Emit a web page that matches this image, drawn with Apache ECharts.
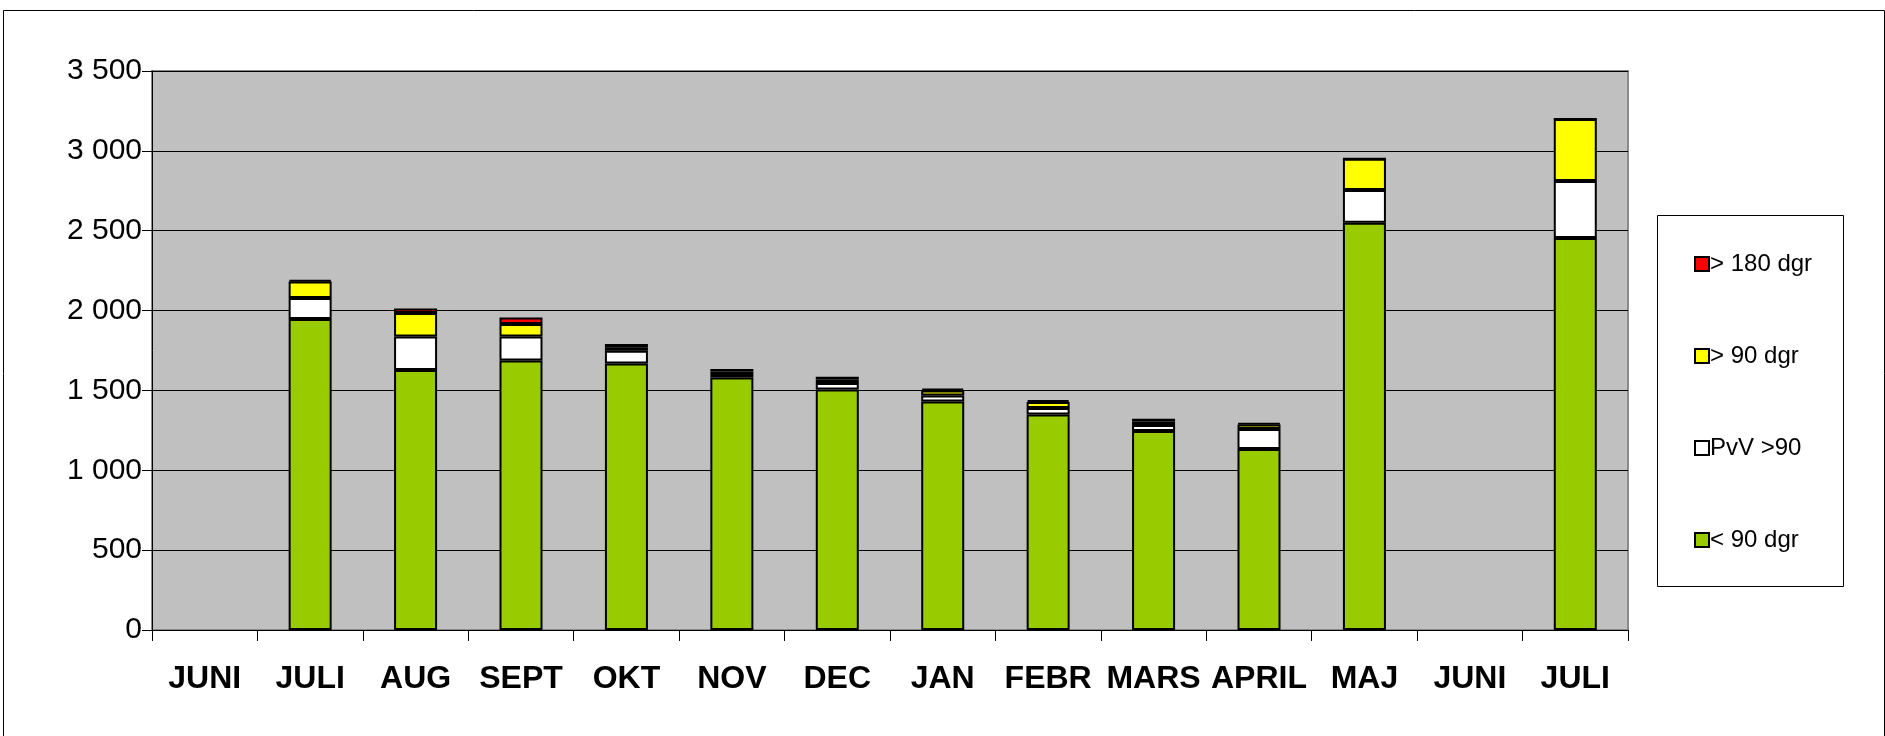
<!DOCTYPE html>
<html>
<head>
<meta charset="utf-8">
<script src="https://cdn.jsdelivr.net/npm/echarts@6/dist/echarts.min.js"></script>
<style>
html,body{margin:0;padding:0;background:#fff;}
#chart{width:1885px;height:736px;}
</style>
</head>
<body>
<div id="chart"></div>
<script>
const categories = ['JUNI','JULI','AUG','SEPT','OKT','NOV','DEC','JAN','FEBR','MARS','APRIL','MAJ','JUNI','JULI'];
const seriesNames = ['< 90 dgr','PvV >90','> 90 dgr','> 180 dgr'];
const under90  = [null,1947,1628,1688,1669,1581,1506,1431,1349,1246,1133,2550,null,2455];
const pvv90    = [null, 132, 210, 150,  80,  22,  40,  37,  41,  38, 126, 205,null, 357];
const over90   = [null, 103, 147,  78,  21,  15,  22,  32,  38,  22,  28, 195,null, 388];
const over180  = [null,  10,  28,  41,  21,  16,  18,  12,  12,  17,   8,   0,null,   0];
const yTicks = [0,500,1000,1500,2000,2500,3000,3500];

const colors = ['#99CC00','#FFFFFF','#FFFF00','#FF0000'];
const values = [under90, pvv90, over90, over180];

const chart = echarts.init(document.getElementById('chart'));
const fmt = v => String(v).replace(/\B(?=(\d{3})+(?!\d))/g, ' ');

chart.setOption({
  animation: false,
  backgroundColor: '#fff',
  grid: {
    left: 152, right: 257, top: 71, bottom: 106,
    show: true, backgroundColor: '#C0C0C0', borderColor: '#8a8a8a', borderWidth: 2
  },
  legend: {
    orient: 'vertical',
    left: 1689, top: 247,
    icon: 'rect',
    itemWidth: 14, itemHeight: 14,
    itemGap: 68,
    data: ['> 180 dgr','> 90 dgr','PvV >90','< 90 dgr'],
    textStyle: { fontFamily: 'Liberation Sans, Arial, sans-serif', fontSize: 24, color: '#000', padding: [0,0,0,-4] }
  },
  graphic: [
    { type: 'rect', left: 1, top: 8, shape: { width: 1881, height: 726 }, style: { fill: 'none', stroke: '#000', lineWidth: 1 }, z: -10 },
    { type: 'rect', left: 1657, top: 215, shape: { width: 186, height: 371 }, style: { fill: '#fff', stroke: '#000', lineWidth: 1 }, z: -5 }
  ],
  xAxis: {
    type: 'category',
    data: categories,
    axisLine: { lineStyle: { color: '#000', width: 1 } },
    axisTick: { show: true, length: 11, alignWithLabel: false, lineStyle: { color: '#000' } },
    axisLabel: { color: '#000', fontFamily: 'Liberation Sans, Arial, sans-serif', fontWeight: 'bold', fontSize: 32, margin: 33, interval: 0 }
  },
  yAxis: {
    type: 'value', min: 0, max: 3500, interval: 500,
    axisLine: { show: true, lineStyle: { color: '#000', width: 1 } },
    axisTick: { show: true, length: 10, lineStyle: { color: '#000' } },
    splitLine: { show: true, lineStyle: { color: '#000', width: 1 } },
    axisLabel: { color: '#000', fontFamily: 'Liberation Sans, Arial, sans-serif', fontSize: 30, margin: 10,
      formatter: v => yTicks.includes(v) ? fmt(v) : '' }
  },
  series: seriesNames.map((name, i) => ({
    name: name,
    type: 'bar',
    stack: 'total',
    barWidth: 43,
    data: values[i],
    itemStyle: { color: colors[i], borderColor: '#000', borderWidth: 2 }
  }))
});
</script>
</body>
</html>
